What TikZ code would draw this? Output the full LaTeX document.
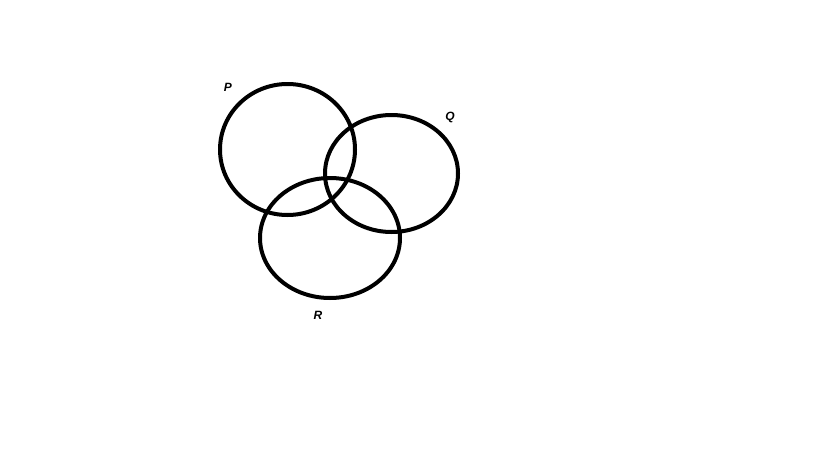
\documentclass[tikz,border=0pt]{standalone}
\usepackage{fontspec}
\setmainfont{Liberation Sans}
\usepackage{tikz}
\tikzset{
  setline/.style = {line width=4pt, draw=black},
  setname/.style = {font=\fontsize{12}{14}\selectfont\bfseries\itshape, inner sep=0pt},
}
\begin{document}
\begin{tikzpicture}[x=1pt, y=-1pt]
  \useasboundingbox[fill=white] (0,0) rectangle (828,450);
  % the three sets
  \draw[setline] (287.5,149.5) ellipse [x radius=67.5, y radius=65.5];
  \draw[setline] (391.5,173.5) ellipse [x radius=66.5, y radius=58.5];
  \draw[setline] (330,238) ellipse [x radius=70, y radius=60];
  % labels
  \node[setname] (lblP) at (228,87) {P};
  \node[setname] (lblQ) at (450,117) {Q};
  \node[setname] (lblR) at (318,315) {R};
\end{tikzpicture}
\end{document}
